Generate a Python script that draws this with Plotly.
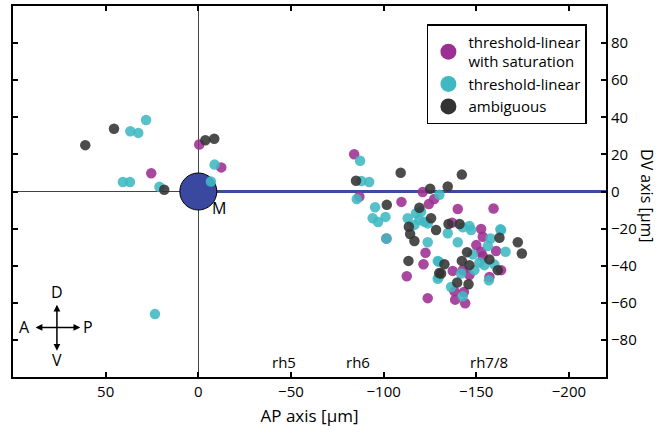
import plotly.graph_objects as go

# ---- data (AP, DV in µm) ----
sat_x = [25.4, -0.5, -12.4, -84.1, -86.9, -109.6, -121.1, -127.3, -124.4, -140, -159.3,
         -137, -152.6, -101.5, -122.6, -121.5, -112.5, -123.8, -153.5, -150, -152.6,
         -160.7, -153.5, -137.3, -142.7, -146.3, -163.4, -157.1, -138.2, -143.3, -138.6, -144]
sat_y = [9.8, 25.3, 13, 20.1, -2.7, -5.6, -0.3, -4, -6.8, -9.4, -9.2,
         -16.8, -20.2, -25.3, -33, -39.2, -45.7, -57.5, -24.4, -28.9, -32.5,
         -32.1, -34.9, -42.8, -42.4, -45.1, -42.4, -46.1, -53.8, -54.2, -58.3, -60.2]

lin_x = [36.7, 32.4, 28.2, 40.7, 36.9, 21, -8.8, -6.8, 23.4, -87.3, -88, -92.2, -85.5,
         -95.4, -94.1, -97, -101, -113, -117.5, -120.2, -119.3, -122, -123.8, -116.6,
         -130.1, -146.3, -163, -101.5, -123.8, -129.8, -129.8, -134.6, -142.7, -147.2,
         -157.7, -163.4, -140, -156.2, -165.8, -148.1, -129.2, -151.7, -159.8, -154.4,
         -129.2, -141.8, -149, -156.8, -136.4, -142.7]
lin_y = [32.5, 31.6, 38.5, 5.1, 5.1, 2.5, 14.5, 5.4, -66.1, 16.6, 5.6, 5.1, -4.1,
         -8.5, -14.4, -16.4, -13.7, -14.4, -11.7, -10.8, -15.4, -16.3, -17.2, -18,
         -1.8, -18.6, -20.4, -25.3, -27.4, -37.9, -46.1, -22.5, -19.3, -20.8,
         -25.3, -20.8, -27.4, -29.4, -32.5, -33.9, -37.4, -38.3, -39.4, -39.7,
         -47, -44.2, -42.4, -47.9, -51.5, -56.5]

amb_x = [61, 45.5, -3.8, -8.6, 18.4, -109.2, -85.1, -125.1, -101.7, -119.3, -125.6,
         -113.6, -142.2, -134.6, -135, -141, -114.3, -116.6, -113.4, -130, -128.3,
         -162.5, -172.4, -174.6, -145, -142.2, -132.8, -157.1, -146.3, -131, -161.6,
         -139.7, -145.8]
amb_y = [25, 33.8, 27.6, 28.4, 0.9, 10.1, 5.8, 1.5, -7.2, -8.8, -14.4,
         -19, 9.1, 2.7, -17.5, -17.5, -22.9, -26.7, -37.4, -44, -20.8,
         -24.9, -27.4, -33.4, -32.7, -37.4, -39.2, -36.6, -39.7, -44.2, -42.4,
         -49.1, -50]

region_labels = ["rh5", "rh6", "rh7/8"]
region_x = [-46, -86, -157]

C_SAT = "#9c2f92"
C_LIN = "#3fb8c2"
C_AMB = "#333333"
FONT = "Open Sans"

fig = go.Figure()

# midline
fig.add_trace(go.Scatter(x=[0, -220], y=[0, 0], mode="lines",
                         line=dict(color="#3d4b9c", width=3), showlegend=False, hoverinfo="skip"))
# M
fig.add_trace(go.Scatter(x=[0], y=[0], mode="markers",
                         marker=dict(size=37, color="#3b48a0", line=dict(color="black", width=1)),
                         showlegend=False, hoverinfo="skip"))

for xs, ys, c in [(sat_x, sat_y, C_SAT), (lin_x, lin_y, C_LIN), (amb_x, amb_y, C_AMB)]:
    fig.add_trace(go.Scatter(x=xs, y=ys, mode="markers",
                             marker=dict(size=10.5, color=c, opacity=0.88, line=dict(width=0)),
                             showlegend=False))

# legend entries
for name, c in [("threshold-linear<br>with saturation", C_SAT), ("threshold-linear", C_LIN), ("ambiguous", C_AMB)]:
    fig.add_trace(go.Scatter(x=[None], y=[None], mode="markers", name=name,
                             marker=dict(size=16, color=c)))

ann = []
for t, x in zip(region_labels, region_x):
    ann.append(dict(x=x, y=-92, text=t, showarrow=False, font=dict(size=15, family=FONT, color="black")))
ann.append(dict(x=-11, y=-9, text="M", showarrow=False, font=dict(size=16, family=FONT, color="black")))

# compass
arrow = dict(showarrow=True, axref="x", ayref="y", arrowhead=2, startarrowhead=2,
             arrowside="end+start", arrowsize=0.9, arrowwidth=1.5, arrowcolor="black", text="")
ann.append(dict(arrow, x=63.7, y=-73.3, ax=88.6, ay=-73.3))
ann.append(dict(arrow, x=76.3, y=-85.8, ax=76.3, ay=-60.3))
for t, x, y in [("D", 76.3, -54.2), ("V", 76.3, -90.7), ("A", 94.0, -73.3), ("P", 59.4, -73.3)]:
    ann.append(dict(x=x, y=y, text=t, showarrow=False, font=dict(size=16, family=FONT, color="black")))

# DV axis title, rotated clockwise
ann.append(dict(x=1.069, y=0.488, xref="paper", yref="paper", xanchor="center", yanchor="middle",
                text="DV axis [μm]", textangle=90,
                showarrow=False, font=dict(size=16, family=FONT, color="black")))

fig.update_layout(
    width=660, height=434,
    margin=dict(l=13, r=54, t=6, b=57),
    paper_bgcolor="white", plot_bgcolor="white",
    font=dict(family=FONT, size=15, color="black"),
    annotations=ann,
    legend=dict(x=0.698, y=0.951, xanchor="left", yanchor="top",
                bordercolor="black", borderwidth=1.5, bgcolor="white",
                font=dict(size=15, family=FONT), itemsizing="trace",
                tracegroupgap=2),
    xaxis=dict(range=[100, -220], tickvals=[50, 0, -50, -100, -150, -200],
               ticks="inside", ticklen=5, tickwidth=1.5, tickcolor="black",
               showline=True, linewidth=2, linecolor="black", mirror="ticks",
               showgrid=False, zeroline=True, zerolinecolor="#444", zerolinewidth=1,
               tickfont=dict(size=15), automargin=False,
               title=dict(text="AP axis [μm]", font=dict(size=17), standoff=10)),
    yaxis=dict(range=[-100, 100], side="right", tickvals=[80, 60, 40, 20, 0, -20, -40, -60, -80],
               ticks="inside", ticklen=5, tickwidth=1.5, tickcolor="black",
               showline=True, linewidth=2, linecolor="black", mirror="ticks",
               showgrid=False, zeroline=True, zerolinecolor="#444", zerolinewidth=1,
               tickfont=dict(size=15), automargin=False),
)

fig.write_html("out.html")
